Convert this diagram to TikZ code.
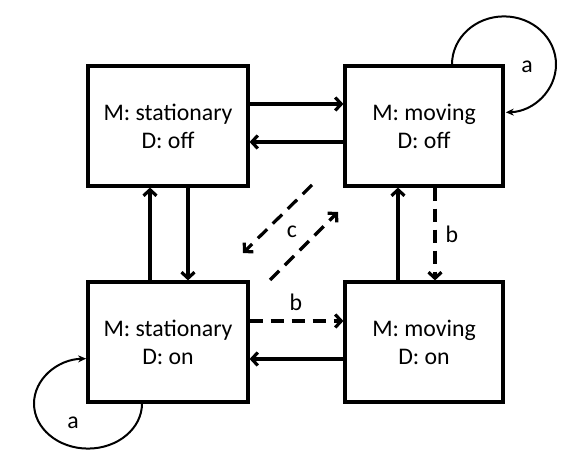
\documentclass[tikz,border=0pt]{standalone}
\usepackage{fontspec}
\setmainfont{Carlito}
\usetikzlibrary{arrows.meta}
\newcommand{\stxt}[2]{\raisebox{-3pt}{\parbox{150pt}{\centering\fontsize{23.8}{28}\selectfont #1\\ #2}}}
\begin{document}
\begin{tikzpicture}[x=1pt,y=1pt,
  state/.style={draw, line width=3.2pt, minimum width=160pt, minimum height=120pt, inner sep=0pt},
  lab/.style={font=\fontsize{23.8}{24}\selectfont, inner sep=0pt},
  tr/.style={line width=3.2pt, -{Straight Barb[length=6pt,width=13pt]}},
  dsh/.style={tr, dash pattern=on 13pt off 8pt},
  loopa/.style={line width=2pt, -{Stealth[length=8pt,width=7pt]}}]
\useasboundingbox (0,0) rectangle (574,462);
\node[state] (tl) at (168,336) {\stxt{M: stationary}{D: off}};
\node[state, minimum width=158pt] (trb) at (424,336) {\stxt{M: moving}{D: off}};
\node[state] (bl) at (168,120) {\stxt{M: stationary}{D: on}};
\node[state, minimum width=158pt] (br) at (424,120) {\stxt{M: moving}{D: on}};
% horizontal
\draw[tr] ([yshift=22]tl.east) -- ([yshift=22]trb.west);
\draw[tr] ([yshift=-16]trb.west) -- ([yshift=-16]tl.east);
\draw[dsh] ([yshift=21]bl.east) -- ([yshift=21]br.west);
\draw[tr] ([yshift=-17]br.west) -- ([yshift=-17]bl.east);
% vertical
\draw[tr] ([xshift=-18]bl.north) -- ([xshift=-18]tl.south);
\draw[tr] ([xshift=20]tl.south) -- ([xshift=20]bl.north);
\draw[tr] ([xshift=-26]br.north) -- ([xshift=-26]trb.south);
\draw[dsh] ([xshift=11]trb.south) -- ([xshift=11]br.north);
% diagonal
\coordinate (c1s) at (312,277);
\coordinate (c1e) at (243,209);
\coordinate (c2s) at (270,182);
\coordinate (c2e) at (338,250);
\draw[dsh] (c1s) -- (c1e);
\draw[dsh] (c2s) -- (c2e);
% loops
\draw[loopa] ([xshift=28]trb.north) arc[start angle=180, end angle=-88, x radius=52, y radius=48];
\draw[loopa] ([xshift=-26]bl.south) arc[start angle=0, end angle=-268, x radius=54, y radius=45];
% labels
\node[lab] (la1) at (527,395) {a};
\node[lab] (la2) at (73,39) {a};
\node[lab] (lb1) at (452,228) {b};
\node[lab] (lb2) at (296,160) {b};
\node[lab] (lc) at (292,230) {c};
\end{tikzpicture}
\end{document}
